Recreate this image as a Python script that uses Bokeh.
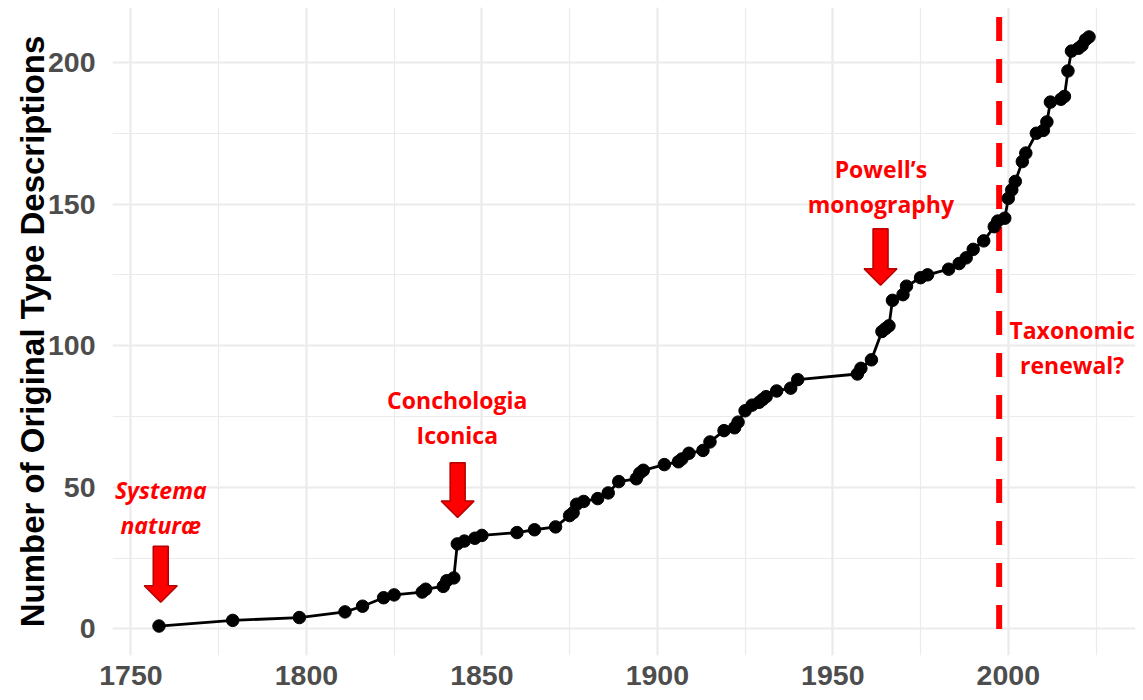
from bokeh.plotting import figure
from bokeh.models import SingleIntervalTicker
from bokeh.core.properties import value
from bokeh.embed import file_html
from bokeh.resources import INLINE

# ---- data ----
years = [1758, 1779, 1798, 1811, 1816, 1822, 1825, 1833, 1834, 1839,
         1840, 1842, 1843, 1845, 1848, 1850, 1860, 1865, 1871, 1875,
         1876, 1877, 1879, 1883, 1886, 1889, 1894, 1895, 1896, 1902,
         1906, 1907, 1909, 1913, 1915, 1919, 1922, 1923, 1925, 1927,
         1929, 1930, 1931, 1934, 1938, 1940, 1957, 1958, 1961, 1964,
         1965, 1966, 1967, 1970, 1971, 1975, 1977, 1983, 1986, 1988,
         1990, 1993, 1996, 1997, 1999, 2000, 2001, 2002, 2004, 2005,
         2008, 2010, 2011, 2012, 2015, 2016, 2017, 2018, 2020, 2021,
         2022, 2023]
counts = [1, 3, 4, 6, 8, 11, 12, 13, 14, 15,
          17, 18, 30, 31, 32, 33, 34, 35, 36, 40,
          41, 44, 45, 46, 48, 52, 53, 55, 56, 58,
          59, 60, 62, 63, 66, 70, 71, 73, 77, 79,
          80, 81, 82, 84, 85, 88, 90, 92, 95, 105,
          106, 107, 116, 118, 121, 124, 125, 127, 129, 131,
          134, 137, 142, 144, 145, 152, 155, 158, 165, 168,
          175, 176, 179, 186, 187, 188, 197, 204, 205, 206,
          208, 209]

renewal_year = 1997.4

label_x = [1843.0, 1963.7, 2018.2]
label_y = [74.5, 156.2, 99.5]
label_text = ["Conchologia\nIconica", "Powell\u2019s\nmonography", "Taxonomic\nrenewal?"]
italic_label_x = [1758.5]
italic_label_y = [42.8]
italic_label_text = ["Systema\nnatur\u00e6"]

arrow_x = [1758.5, 1843.1, 1963.6]
arrow_top = [29.2, 58.7, 141.3]
arrow_tip = [9.4, 39.3, 121.3]

# ---- figure ----
x0, x1 = 1744.75, 2036.25
y0, y1 = -9.4, 219.4
FW, FH = 1023, 648

p = figure(frame_width=FW, frame_height=FH, x_range=(x0, x1), y_range=(y0, y1),
           output_backend="svg", toolbar_location=None,
           min_border_left=112, min_border_right=0, min_border_top=7, min_border_bottom=45)
p.outline_line_color = None
p.background_fill_color = "white"

px_x = (x1 - x0) / FW   # years per pixel
px_y = (y1 - y0) / FH   # units per pixel

# grid
p.xaxis.ticker = SingleIntervalTicker(interval=50, num_minor_ticks=2)
p.yaxis.ticker = SingleIntervalTicker(interval=50, num_minor_ticks=2)
for g in (p.xgrid, p.ygrid):
    g.grid_line_color = "#EBEBEB"
    g.grid_line_width = 2.2
    g.minor_grid_line_color = "#EBEBEB"
    g.minor_grid_line_width = 1.2

for ax in (p.xaxis, p.yaxis):
    ax.axis_line_color = None
    ax.major_tick_line_color = None
    ax.minor_tick_line_color = None
    ax.major_tick_out = 0
    ax.minor_tick_out = 0
    ax.major_label_text_font = "Liberation Sans"
    ax.major_label_text_font_style = "bold"
    ax.major_label_text_font_size = "28.5px"
    ax.major_label_text_color = "#4D4D4D"

p.xaxis.major_label_standoff = 10
p.yaxis.major_label_standoff = 17
p.yaxis.axis_label = "Number of Original Type Descriptions"
p.yaxis.axis_label_text_font = "Liberation Sans"
p.yaxis.axis_label_text_font_style = "bold"
p.yaxis.axis_label_text_font_size = "33px"
p.yaxis.axis_label_text_color = "black"
p.yaxis.axis_label_standoff = -6

# dashed vertical line (from 0 upward)
p.segment(x0=[renewal_year], y0=[0], x1=[renewal_year], y1=[y1 + 50],
          line_color="#FF0000", line_width=6, line_dash="24 18")

# data
p.line(years, counts, line_color="black", line_width=2.8)
p.scatter(years, counts, size=12.5, fill_color="black", line_color="black")

# block arrows
shaft_hw = 7.5 * px_x
head_hw = 16.5 * px_x
head_len = 16.5 * px_y
xs, ys = [], []
for ax_, top, tip in zip(arrow_x, arrow_top, arrow_tip):
    base = tip + head_len
    xs.append([ax_ - shaft_hw, ax_ + shaft_hw, ax_ + shaft_hw, ax_ + head_hw, ax_,
               ax_ - head_hw, ax_ - shaft_hw])
    ys.append([top, top, base, base, tip, base, base])
p.patches(xs, ys, fill_color="#FF0000", line_color="#B40000", line_width=1.5)

# annotations
p.text(label_x, label_y, text=label_text, text_align="center", text_baseline="middle",
       text_font=value("Open Sans"), text_font_style="bold", text_font_size="23px",
       text_color="#FF0000", text_line_height=1.09)
p.text(italic_label_x, italic_label_y, text=italic_label_text, text_align="center",
       text_baseline="middle", text_font=value("Open Sans"), text_font_style="bold italic",
       text_font_size="23px", text_color="#FF0000", text_line_height=1.09)

open("out.html", "w").write(file_html(p, INLINE))
